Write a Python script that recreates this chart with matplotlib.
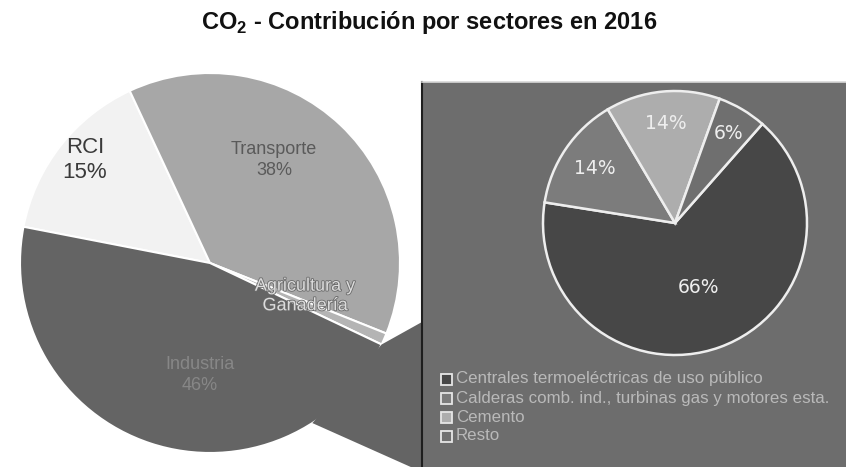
import numpy as np
import matplotlib
matplotlib.use("Agg")
import matplotlib.pyplot as plt
from matplotlib.patches import Rectangle, Polygon
import matplotlib.patheffects as pe

# datos - sector principal
sectores = ['RCI', 'Transporte', 'Agricultura y\nGanadería', 'Industria']
valores = [15, 38, 1, 46]
colores = ['#f2f2f2', '#a7a7a7', '#b4b4b4', '#646464']

# datos - desglose de industria
sub_sectores = ['Centrales termoeléctricas de uso público',
                'Calderas comb. ind., turbinas gas y motores esta.',
                'Cemento', 'Resto']
sub_valores = [66, 14, 14, 6]
sub_colores = ['#474747', '#7c7c7c', '#adadad', '#6f6f6f']

plt.rcParams['font.family'] = ['Liberation Sans', 'DejaVu Sans']
plt.rcParams['mathtext.fontset'] = 'custom'
plt.rcParams['mathtext.bf'] = 'Liberation Sans:bold'

fig = plt.figure(figsize=(8.46, 4.67), dpi=100)
ax = fig.add_axes([0, 0, 1, 1])

H = 467
c1 = (210, H - 263)
r1 = 190
start1 = 169

wedges, _ = ax.pie(valores, colors=colores, center=c1, radius=r1,
                   startangle=start1, counterclock=False,
                   wedgeprops=dict(edgecolor='white', linewidth=1.5))

# conector hacia el panel derecho
panel_x = 422
panel_top = H - 82
w_agri = wedges[2]
a_ini = np.deg2rad(w_agri.theta1)
a_fin = np.deg2rad(w_agri.theta1 - 32)
p1 = (c1[0] + r1 * np.cos(a_ini), c1[1] + r1 * np.sin(a_ini))
p2 = (c1[0] + r1 * np.cos(a_fin), c1[1] + r1 * np.sin(a_fin))
conector = Polygon([p2, p1, (panel_x, H - 322), (panel_x, -5)],
                   closed=True, facecolor=colores[3], edgecolor='none', zorder=3)
ax.add_patch(conector)

# etiquetas del pie principal
ax.text(85, H - 160, 'RCI\n15%', ha='center', va='center', fontsize=16,
        color='#3a3a3a', linespacing=1.2, zorder=4)
ax.text(274, H - 160, 'Transporte\n38%', ha='center', va='center', fontsize=13,
        color='#5a5a5a', linespacing=1.35, zorder=4)
ax.text(305, H - 296, 'Agricultura y\nGanadería', ha='center', va='center',
        fontsize=13, color='#dcdcdc', linespacing=1.2, zorder=4,
        path_effects=[pe.withStroke(linewidth=1.2, foreground='#6a6a6a')])
ax.text(200, H - 375, 'Industria\n46%', ha='center', va='center', fontsize=13,
        color='#878787', linespacing=1.35, zorder=4)

# panel derecho
panel = Rectangle((panel_x, -2), 846 - panel_x + 2, panel_top + 2,
                  facecolor='#6d6d6d', edgecolor='none', zorder=5)
ax.add_patch(panel)
ax.plot([panel_x, panel_x], [0, panel_top], color='#1e1e1e', lw=1.5, zorder=6)
ax.plot([panel_x, 846], [panel_top, panel_top], color='#d8d8d8', lw=1.2, zorder=6)

c2 = (675, H - 223)
r2 = 132
sub_w, _ = ax.pie(sub_valores, colors=sub_colores, center=c2, radius=r2,
                  startangle=48.6, counterclock=False,
                  wedgeprops=dict(edgecolor='#eeeeee', linewidth=1.8))
dist_etq = [0.52, 0.73, 0.76, 0.79]
for w, v, d in zip(sub_w, sub_valores, dist_etq):
    w.set_zorder(6)
    ang = np.deg2rad((w.theta1 + w.theta2) / 2)
    ax.text(c2[0] + d * r2 * np.cos(ang), c2[1] + d * r2 * np.sin(ang),
            f'{v}%', ha='center', va='center', fontsize=13.5, color='#eeeeee',
            family='DejaVu Sans', zorder=7)

# leyenda manual
y0 = H - 379
for i, (nombre, col) in enumerate(zip(sub_sectores, sub_colores)):
    yy = y0 - i * 19
    ax.add_patch(Rectangle((441, yy - 6), 11, 11, facecolor=col,
                           edgecolor='#e6e6e6', linewidth=1.3, zorder=7))
    ax.text(456, yy, nombre, ha='left', va='center', fontsize=12.2,
            color='#b9b9b9', zorder=7, clip_on=True)

ax.text(429, H - 22, r'CO$_\mathbf{2}$ - Contribución por sectores en 2016',
        ha='center', va='center', fontsize=17, fontweight='bold', color='#111111')

ax.set_xlim(0, 846)
ax.set_ylim(0, H)
ax.set_aspect('equal')
ax.axis('off')

fig.savefig('out.png', dpi=100)
